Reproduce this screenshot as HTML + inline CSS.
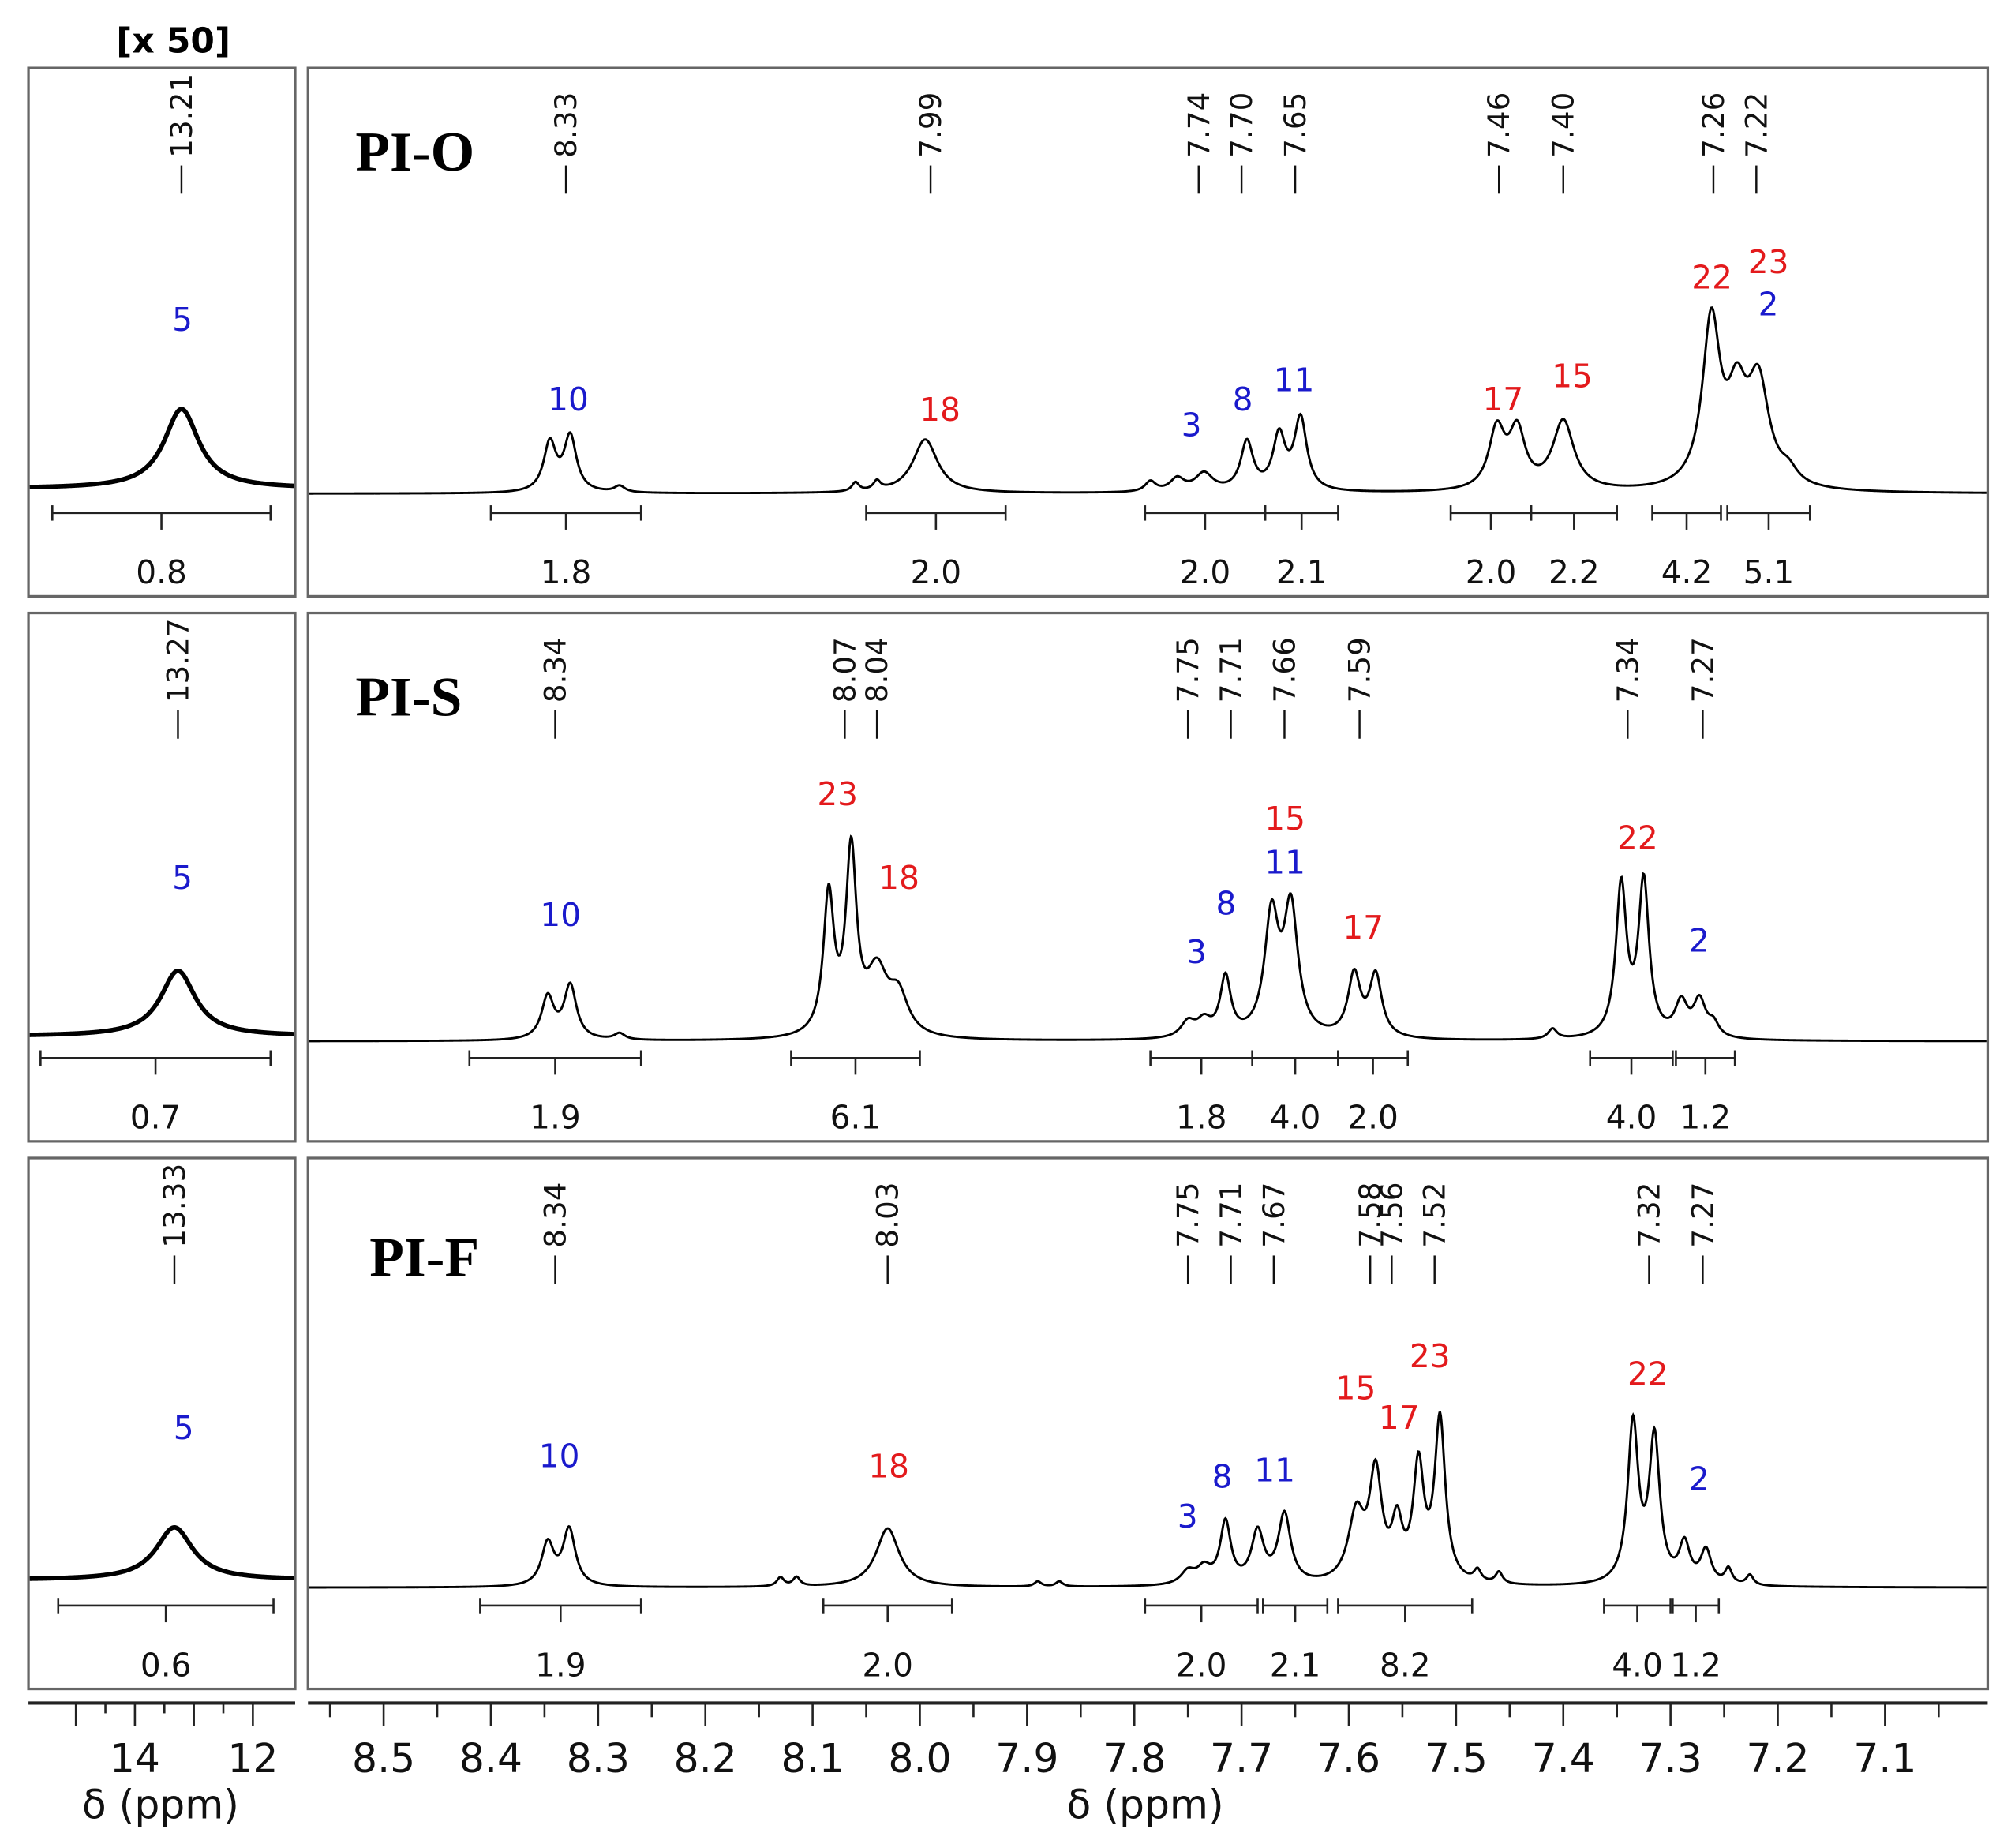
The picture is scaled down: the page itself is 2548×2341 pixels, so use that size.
<!DOCTYPE html>
<html><head><meta charset="utf-8"><style>
html,body{margin:0;padding:0;background:#fff;}
svg{display:block;}
text{font-family:"DejaVu Sans","Liberation Sans",sans-serif;}
.ttl{font-family:"Liberation Serif",serif;font-weight:bold;font-size:44px;}
.sh{font-size:23px;fill:#111;}
.ig{font-size:25px;fill:#111;}
.al{font-size:25px;}
.b{fill:#1a1acc;} .r{fill:#e31a1c;}
.ax{font-size:31px;fill:#111;}
</style></head><body>
<svg id="chart" width="2548" height="2341" viewBox="0 0 1568 1441" xmlns="http://www.w3.org/2000/svg">
<g id="frames"></g>
<g id="spec"></g>
<g id="ann"></g>
<g id="axis"></g>
</svg>
<script>
// ---- data: main-panel peaks (ppm, intensity, half-width ppm) ----
const oShifts=[8.345,8.326,8.28,8.06,8.04,7.995,7.785,7.76,7.735,7.695,7.665,7.645,7.462,7.443,7.40,7.262,7.238,7.218,7.19];
const oHeights=[38,43,5,7,7,42,8,10,14,38,42,56,46,44,54,128,62,78,10];
const oWidths=[.007,.007,.006,.004,.004,.014,.006,.008,.01,.007,.007,.007,.009,.009,.012,.01,.011,.012,.01];
const sShifts=[8.347,8.326,8.28,8.085,8.064,8.04,8.02,7.75,7.735,7.715,7.672,7.654,7.595,7.575,7.41,7.346,7.325,7.29,7.273,7.26];
const sHeights=[33,42,5,108,140,48,30,12,12,46,92,98,48,48,8,118,120,26,28,10];
const sWidths=[.007,.007,.006,.006,.006,.012,.011,.008,.008,.006,.008,.008,.007,.007,.005,.006,.006,.007,.007,.006];
const fShifts=[8.347,8.327,8.13,8.115,8.03,7.89,7.87,7.75,7.735,7.715,7.685,7.66,7.593,7.575,7.555,7.535,7.515,7.48,7.46,7.335,7.315,7.287,7.267,7.246,7.226];
const fHeights=[33,44,7,7,46,4,4,10,12,48,40,54,52,82,42,88,126,9,9,124,112,30,26,12,8];
const fWidths=[.007,.007,.004,.004,.013,.004,.004,.008,.008,.006,.007,.007,.009,.007,.006,.006,.006,.004,.004,.006,.006,.006,.006,.004,.004];
// ---- data: left-panel OH peak ----
const lShifts=[13.21,13.27,13.33];
const lHeights=[62,51,41];
const lWidths=[0.36,0.36,0.38];
// ---- tick labels ----
const mainTicks=[8.5,8.4,8.3,8.2,8.1,8.0,7.9,7.8,7.7,7.6,7.5,7.4,7.3,7.2,7.1];
const leftTicks=[14,12];
// ---- chemical shift labels per row ----
const shiftLabels=[[8.33,7.99,7.74,7.70,7.65,7.46,7.40,7.26,7.22],[8.34,8.07,8.04,7.75,7.71,7.66,7.59,7.34,7.27],[8.34,8.03,7.75,7.71,7.67,7.58,7.56,7.52,7.32,7.27]];
const leftLabels=[13.21,13.27,13.33];
// integrals: [fromPpm,toPpm,value]
const integrals=[
 [[8.40,8.26,"1.8"],[8.05,7.92,"2.0"],[7.79,7.678,"2.0"],[7.678,7.61,"2.1"],[7.505,7.43,"2.0"],[7.43,7.35,"2.2"],[7.317,7.253,"4.2"],[7.247,7.17,"5.1"]],
 [[8.42,8.26,"1.9"],[8.12,8.00,"6.1"],[7.785,7.69,"1.8"],[7.69,7.61,"4.0"],[7.61,7.545,"2.0"],[7.375,7.298,"4.0"],[7.295,7.24,"1.2"]],
 [[8.41,8.26,"1.9"],[8.09,7.97,"2.0"],[7.79,7.685,"2.0"],[7.68,7.62,"2.1"],[7.61,7.485,"8.2"],[7.362,7.30,"4.0"],[7.298,7.255,"1.2"]]];
const leftIntegrals=[[15.4,11.7,"0.8"],[15.6,11.7,"0.7"],[15.3,11.65,"0.6"]];
</script>
<script>
const NS="http://www.w3.org/2000/svg";
function mk(tag,attrs,parent,txt){const e=document.createElementNS(NS,tag);for(const k in attrs)e.setAttribute(k,attrs[k]);if(txt!==undefined)e.textContent=txt;parent.appendChild(e);return e;}
const xMain=p=>299+(8.5-p)*836.4;
const xLeft=p=>105+(14-p)*46;
const rows=[{top:53,bot:465,base:385,lbase:381,title:"PI-O",tx:277,ty:133,integY:400},
            {top:478,bot:890,base:812,lbase:808,title:"PI-S",tx:277,ty:558,integY:825},
            {top:903,bot:1317,base:1238,lbase:1232,title:"PI-F",tx:288,ty:995,integY:1252}];
const F=document.getElementById('frames'),S=document.getElementById('spec'),A=document.getElementById('ann'),X=document.getElementById('axis');
rows.forEach((r,i)=>{
 let e=mk('rect',{x:22,y:r.top,width:208,height:r.bot-r.top,fill:'none',stroke:'#666','stroke-width':2},F);
 
 
 e=mk('rect',{x:240,y:r.top,width:1310,height:r.bot-r.top,fill:'none',stroke:'#666','stroke-width':2},F);
 
 
});
const specs=[[oShifts,oHeights,oWidths],[sShifts,sHeights,sWidths],[fShifts,fHeights,fWidths]];
function lor(p,sh,h,w){let s=0;for(let k=0;k<sh.length;k++){const d=p-sh[k];s+=h[k]*w[k]*w[k]/(d*d+w[k]*w[k]);}return s;}
specs.forEach((sp,i)=>{
 const r=rows[i];let d='';
 for(let x=241;x<=1549;x+=0.5){const p=8.5-(x-299)/836.4;const y=r.base-lor(p,sp[0],sp[1],sp[2]);d+=(x===241?'M':'L')+x.toFixed(1)+' '+y.toFixed(2);}
 let e=mk('path',{d:d,fill:'none',stroke:'#000','stroke-width':1.8},S);
 
 
 let dl='';
 for(let x=23;x<=229;x+=0.5){const p=14-(x-105)/46;const y=r.lbase-lor(p,[lShifts[i]],[lHeights[i]],[lWidths[i]]);dl+=(x===23?'M':'L')+x+' '+y.toFixed(2);}
 e=mk('path',{d:dl,fill:'none',stroke:'#000','stroke-width':3.5},S);
 
 
 e=mk('text',{x:r.tx,y:r.ty,class:'ttl'},A,r.title);
 
 
 const ty=r.top+10;
 shiftLabels[i].concat([leftLabels[i]]).forEach((v,k)=>{
  const isLeft=k===shiftLabels[i].length;const x=isLeft?xLeft(v):xMain(v);
  const t=mk('text',{x:0,y:0,class:'sh',transform:`translate(${x+8},${ty+60}) rotate(-90)`},A,v.toFixed(2));
  
  
  const l=mk('line',{x1:x,y1:ty+66,x2:x,y2:ty+88,stroke:'#111','stroke-width':1.5},A);
  
  
 });
 const ints=integrals[i].map(a=>[xMain(a[0]),xMain(a[1]),a[2]]).concat([[xLeft(leftIntegrals[i][0]),xLeft(leftIntegrals[i][1]),leftIntegrals[i][2]]]);
 ints.forEach(a=>{
  const y=r.integY,c=(a[0]+a[1])/2;
  const g=mk('g',{stroke:'#222','stroke-width':1.6},A);
  
  
  mk('line',{x1:a[0],y1:y,x2:a[1],y2:y},g);
  mk('line',{x1:a[0],y1:y-6,x2:a[0],y2:y+6},g);
  mk('line',{x1:a[1],y1:y-6,x2:a[1],y2:y+6},g);
  mk('line',{x1:c,y1:y,x2:c,y2:y+13},g);
  const t=mk('text',{x:c,y:y+55,class:'ig','text-anchor':'middle'},A,a[2]);
  
  
 });
});
const atomLabels=[[142,258,"5","b"],[443,320,"10","b"],[733,328,"18","r"],[929,340,"3","b"],[969,320,"8","b"],[1009,305,"11","b"],[1172,320,"17","r"],[1226,302,"15","r"],[1335,225,"22","r"],[1379,213,"23","r"],[1379,246,"2","b"],
[142,693,"5","b"],[437,722,"10","b"],[653,628,"23","r"],[701,693,"18","r"],[933,751,"3","b"],[956,713,"8","b"],[1002,647,"15","r"],[1002,681,"11","b"],[1063,732,"17","r"],[1277,662,"22","r"],[1325,742,"2","b"],
[143,1122,"5","b"],[436,1144,"10","b"],[693,1152,"18","r"],[926,1191,"3","b"],[953,1160,"8","b"],[994,1155,"11","b"],[1057,1091,"15","r"],[1091,1114,"17","r"],[1115,1066,"23","r"],[1285,1080,"22","r"],[1325,1162,"2","b"]];
atomLabels.forEach(a=>{const t=mk('text',{x:a[0],y:a[1],class:'al '+a[3],'text-anchor':'middle'},A,a[2]);
 
 });
let t=mk('text',{x:135,y:41,'font-size':27,'font-weight':'bold','text-anchor':'middle'},A,'[x 50]');


mk('line',{x1:22,y1:1328,x2:230,y2:1328,stroke:'#222','stroke-width':2.5},X);
mk('line',{x1:240,y1:1328,x2:1550,y2:1328,stroke:'#222','stroke-width':2.5},X);
for(let p=8.55;p>=7.03;p-=0.05){const x=xMain(p);const maj=Math.abs(Math.round(p*10)-p*10)<0.01;mk('line',{x1:x,y1:1328,x2:x,y2:1328+(maj?18:11),stroke:'#222','stroke-width':1.6},X);}
for(let p=15;p>=12;p-=0.5){const x=xLeft(p);const maj=Math.abs(Math.round(p)-p)<0.01;mk('line',{x1:x,y1:1328,x2:x,y2:1328+(maj?18:8),stroke:'#222','stroke-width':1.6},X);}
mainTicks.forEach(v=>{const e=mk('text',{x:xMain(v),y:1382,class:'ax','text-anchor':'middle'},X,v.toFixed(1));
 
 });
leftTicks.forEach(v=>{const e=mk('text',{x:xLeft(v),y:1382,class:'ax','text-anchor':'middle'},X,String(v));
 
 });
t=mk('text',{x:125,y:1418,class:'ax','text-anchor':'middle'},X,'δ (ppm)');


t=mk('text',{x:893,y:1418,class:'ax','text-anchor':'middle'},X,'δ (ppm)');


</script>
</body></html>
